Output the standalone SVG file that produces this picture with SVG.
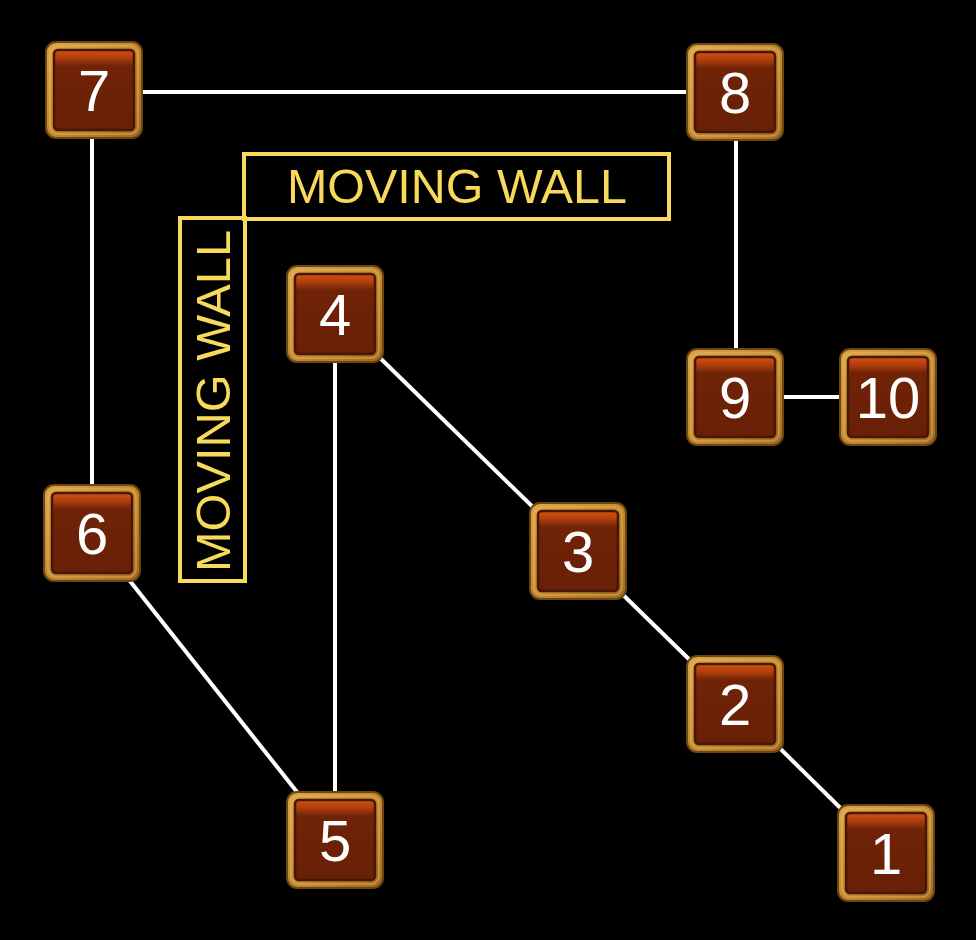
<svg xmlns="http://www.w3.org/2000/svg" width="976" height="940" viewBox="0 0 976 940">
<defs>
<linearGradient id="frameG" x1="0" y1="0" x2="1" y2="1">
<stop offset="0" stop-color="#dba548"/>
<stop offset="0.5" stop-color="#c48a30"/>
<stop offset="1" stop-color="#a26a22"/>
</linearGradient>
<linearGradient id="innerG" x1="0" y1="0" x2="0" y2="1">
<stop offset="0" stop-color="#d4520f"/>
<stop offset="0.1" stop-color="#b03e0c"/>
<stop offset="0.2" stop-color="#702307"/>
<stop offset="1" stop-color="#682006"/>
</linearGradient>
<g id="tile">
<rect x="-48" y="-48" width="96" height="96" rx="10" fill="url(#frameG)" stroke="#6b4512" stroke-width="2"/>
<rect x="-44" y="-44" width="88" height="88" rx="8" fill="none" stroke="#eec060" stroke-width="1.5" opacity="0.5"/>
<rect x="-40" y="-40" width="80" height="80" rx="4" fill="url(#innerG)" stroke="#4a1604" stroke-width="2.5"/>
</g>
</defs>
<style>
.num{font-family:"Liberation Sans","DejaVu Sans",sans-serif;font-size:58px;fill:#ffffff;text-anchor:middle}
.wall{fill:none;stroke:#f7d95c;stroke-width:4}
.wt{font-family:"Liberation Sans","DejaVu Sans",sans-serif;font-size:48px;fill:#f7d95c;text-anchor:middle}
.edge{stroke:#ffffff;stroke-width:4;fill:none}
</style>
<rect x="0" y="0" width="976" height="940" fill="#000000"/>
<g id="walls">
<rect class="wall" x="244" y="154" width="425" height="65"/>
<text class="wt" x="457" y="203" textLength="340" lengthAdjust="spacingAndGlyphs">MOVING WALL</text>
<rect class="wall" x="180" y="218" width="65" height="363"/>
<text class="wt" transform="translate(230,401) rotate(-90)" x="0" y="0" textLength="342" lengthAdjust="spacingAndGlyphs">MOVING WALL</text>
</g>
<g id="connectors">
<line class="edge" x1="94" y1="92" x2="735" y2="92"/>
<line class="edge" x1="92" y1="91" x2="92" y2="533"/>
<line class="edge" x1="736" y1="92" x2="736" y2="397"/>
<line class="edge" x1="735" y1="397" x2="888" y2="397"/>
<line class="edge" x1="335" y1="314" x2="335" y2="840"/>
<line class="edge" x1="335" y1="314" x2="578" y2="551"/>
<line class="edge" x1="578" y1="551" x2="735" y2="704"/>
<line class="edge" x1="735" y1="704" x2="886" y2="853"/>
<line class="edge" x1="92" y1="533" x2="335" y2="840"/>
</g>
<g id="node7" transform="translate(94,90)"><use href="#tile"/><text class="num" y="21">7</text></g>
<g id="node8" transform="translate(735,92)"><use href="#tile"/><text class="num" y="21">8</text></g>
<g id="node4" transform="translate(335,314)"><use href="#tile"/><text class="num" y="21">4</text></g>
<g id="node9" transform="translate(735,397)"><use href="#tile"/><text class="num" y="21">9</text></g>
<g id="node10" transform="translate(888,397)"><use href="#tile"/><text class="num" y="21">10</text></g>
<g id="node6" transform="translate(92,533)"><use href="#tile"/><text class="num" y="21">6</text></g>
<g id="node3" transform="translate(578,551)"><use href="#tile"/><text class="num" y="21">3</text></g>
<g id="node2" transform="translate(735,704)"><use href="#tile"/><text class="num" y="21">2</text></g>
<g id="node5" transform="translate(335,840)"><use href="#tile"/><text class="num" y="21">5</text></g>
<g id="node1" transform="translate(886,853)"><use href="#tile"/><text class="num" y="21">1</text></g>
</svg>
